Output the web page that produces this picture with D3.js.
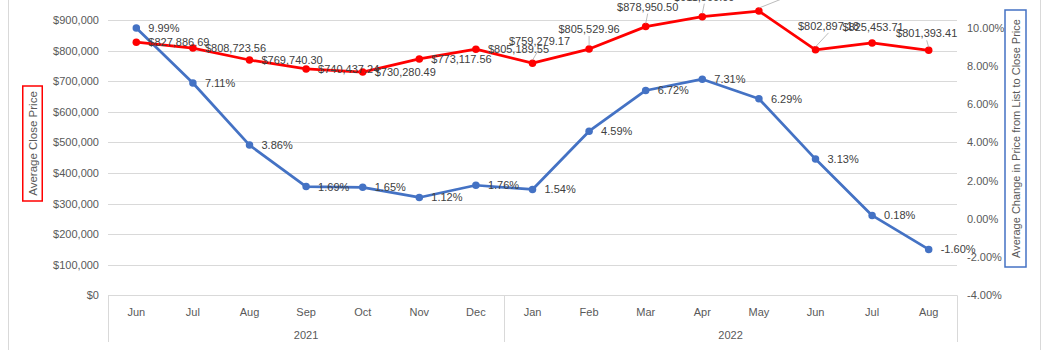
<!DOCTYPE html>
<html>
<head>
<meta charset="utf-8">
<script src="https://cdn.jsdelivr.net/npm/d3@7"></script>
<style>
  html, body { margin: 0; padding: 0; background: #fff; }
  svg { display: block; font-family: "Liberation Sans", Arial, sans-serif; }
</style>
</head>
<body>
<svg id="chart" width="1053" height="350"></svg>
<script>
// ---------- data ----------
const months = ["Jun","Jul","Aug","Sep","Oct","Nov","Dec","Jan","Feb","Mar","Apr","May","Jun","Jul","Aug"];
const years = ["2021","2022"];
const yearOfMonth = [0,0,0,0,0,0,0,1,1,1,1,1,1,1,1];
const avgClosePrice = [827886.69, 808723.56, 769740.30, 740437.24, 730280.49, 773117.56, 805189.55,
                       759279.17, 805529.96, 878950.50, 911500.00, 929800.00, 802897.18, 825453.71, 801393.41];
const avgChangePct = [9.99, 7.11, 3.86, 1.69, 1.65, 1.12, 1.76, 1.54, 4.59, 6.72, 7.31, 6.29, 3.13, 0.18, -1.60];
const leftTicks = [0,100000,200000,300000,400000,500000,600000,700000,800000,900000];
const rightTicks = [-4,-2,0,2,4,6,8,10];

// ---------- layout ----------
const W = 1053, H = 350;
const plot = { left: 108, right: 957, top: -10.4, bottom: 295.3 };
const red = "#FF0000", blue = "#4472C4";
const textCol = "#404040", axisCol = "#595959", gridCol = "#D9D9D9";

// label placements for the price series (manually moved labels with leader lines)
const priceLabelPos = [
  {mode:"right"},{mode:"right"},{mode:"right"},{mode:"right"},{mode:"right"},{mode:"right"},{mode:"right"},
  {mode:"free", dx:7,  dy:-22, leader:true},
  {mode:"free", dx:0,  dy:-20, leader:true},
  {mode:"free", dx:2,  dy:-20, leader:true},
  {mode:"free", dx:2,  dy:-20, leader:true},
  {mode:"free", dx:30, dy:-22, leader:true},
  {mode:"free", dx:13, dy:-24, leader:true},
  {mode:"free", dx:1,  dy:-16, leader:false},
  {mode:"free", dx:-2, dy:-17, leader:true}
];

const svg = d3.select("#chart");

const x = d3.scaleBand().domain(d3.range(months.length)).range([plot.left, plot.right]);
const cx = i => x(i) + x.bandwidth() / 2;
const yL = d3.scaleLinear().domain([0, 1000000]).range([plot.bottom, plot.top]);
const yR = d3.scaleLinear().domain([-4, 12]).range([plot.bottom, plot.top]);

// chart area border
svg.append("line").attr("x1", 8.5).attr("x2", 8.5).attr("y1", 0).attr("y2", H).attr("stroke", gridCol);
svg.append("line").attr("x1", 1040.5).attr("x2", 1040.5).attr("y1", 0).attr("y2", H).attr("stroke", gridCol);

// gridlines
svg.append("g").selectAll("line").data(leftTicks).join("line")
  .attr("x1", plot.left).attr("x2", plot.right)
  .attr("y1", d => Math.round(yL(d)) + 0.5).attr("y2", d => Math.round(yL(d)) + 0.5)
  .attr("stroke", gridCol).attr("stroke-width", 1);

// left axis labels
const fmtMoney = d => "$" + d3.format(",")(d);
const leftAxis = d3.axisLeft(yL).tickValues(leftTicks).tickFormat(fmtMoney).tickSize(0).tickPadding(9);
const gL = svg.append("g").attr("transform", `translate(${plot.left},0)`).call(leftAxis);
gL.select(".domain").remove();
gL.selectAll("text").attr("fill", axisCol).style("font-size", "11px").attr("font-family", "Liberation Sans, Arial, sans-serif");

// right axis labels
const rightAxis = d3.axisRight(yR).tickValues(rightTicks).tickFormat(d => d.toFixed(2) + "%").tickSize(0).tickPadding(10);
const gR = svg.append("g").attr("transform", `translate(${plot.right},0)`).call(rightAxis);
gR.select(".domain").remove();
gR.selectAll("text").attr("fill", axisCol).style("font-size", "11px").attr("font-family", "Liberation Sans, Arial, sans-serif");

// category axis (multi-level)
const sepX = x(7);
const vlines = [plot.left, sepX, plot.right];
svg.append("g").selectAll("line").data(vlines).join("line")
  .attr("x1", d => Math.round(d) + 0.5).attr("x2", d => Math.round(d) + 0.5)
  .attr("y1", plot.bottom).attr("y2", 342)
  .attr("stroke", gridCol);

svg.append("g").selectAll("text").data(months).join("text")
  .attr("x", (d, i) => cx(i)).attr("y", 312)
  .attr("text-anchor", "middle").attr("dominant-baseline", "central")
  .attr("fill", axisCol).style("font-size", "11px").text(d => d);

svg.append("g").selectAll("text").data(years).join("text")
  .attr("x", (d, k) => {
    const idx = d3.range(months.length).filter(i => yearOfMonth[i] === k);
    return (x(idx[0]) + x(idx[idx.length - 1]) + x.bandwidth()) / 2;
  })
  .attr("y", 335)
  .attr("text-anchor", "middle").attr("dominant-baseline", "central")
  .attr("fill", axisCol).style("font-size", "11px").text(d => d);

// x axis title (mostly cut off, as in the reference)
svg.append("text").attr("x", (plot.left + plot.right) / 2).attr("y", 359)
  .attr("text-anchor", "middle").attr("fill", axisCol).style("font-size", "12px").text("Month");

// axis titles with boxes
function boxedTitle(cxp, cyp, text, boxColor, bw, bh, fs) {
  const g = svg.append("g").attr("transform", `translate(${cxp},${cyp})`);
  g.append("rect").attr("x", -bw / 2).attr("y", -bh / 2).attr("width", bw).attr("height", bh)
    .attr("fill", "none").attr("stroke", boxColor).attr("stroke-width", 1.5);
  g.append("text").attr("transform", "rotate(-90)")
    .attr("text-anchor", "middle").attr("dominant-baseline", "central")
    .attr("fill", axisCol).style("font-size", fs + "px").text(text);
}
boxedTitle(32.5, 143.5, "Average Close Price", red, 19.5, 115, 11.5);
boxedTitle(1015.5, 138.5, "Average Change in Price from List to Close Price", blue, 21, 257, 11);

// lines
const lineL = d3.line().x((d, i) => cx(i)).y(d => yL(d));
const lineR = d3.line().x((d, i) => cx(i)).y(d => yR(d));

svg.append("path").datum(avgChangePct).attr("d", lineR)
  .attr("fill", "none").attr("stroke", blue).attr("stroke-width", 2.75).attr("stroke-linejoin", "round");
svg.append("g").selectAll("circle").data(avgChangePct).join("circle")
  .attr("cx", (d, i) => cx(i)).attr("cy", d => yR(d)).attr("r", 3.75).attr("fill", blue);

svg.append("path").datum(avgClosePrice).attr("d", lineL)
  .attr("fill", "none").attr("stroke", red).attr("stroke-width", 2.75).attr("stroke-linejoin", "round");
svg.append("g").selectAll("circle").data(avgClosePrice).join("circle")
  .attr("cx", (d, i) => cx(i)).attr("cy", d => yL(d)).attr("r", 3.75).attr("fill", red);

// blue labels (right)
svg.append("g").selectAll("text").data(avgChangePct).join("text")
  .attr("x", (d, i) => cx(i) + 12).attr("y", d => yR(d))
  .attr("dominant-baseline", "central").attr("fill", textCol).style("font-size", "11px")
  .text(d => d.toFixed(2) + "%");

// red labels
const fmtPrice = d => "$" + d3.format(",.2f")(d);
const gLab = svg.append("g");
avgClosePrice.forEach((v, i) => {
  const px = cx(i), py = yL(v), p = priceLabelPos[i];
  if (p.mode === "right") {
    gLab.append("text").attr("x", px + 12).attr("y", py)
      .attr("dominant-baseline", "central").attr("fill", textCol).style("font-size", "11px")
      .text(fmtPrice(v));
  } else {
    const lx = px + p.dx, ly = py + p.dy;
    if (p.leader) {
      gLab.append("line")
        .attr("x1", px).attr("y1", py - 3)
        .attr("x2", lx).attr("y2", ly + 7)
        .attr("stroke", "#A6A6A6").attr("stroke-width", 0.75);
    }
    gLab.append("text").attr("x", lx).attr("y", ly)
      .attr("text-anchor", "middle").attr("dominant-baseline", "central")
      .attr("fill", textCol).style("font-size", "11px").text(fmtPrice(v));
  }
});
</script>
</body>
</html>
